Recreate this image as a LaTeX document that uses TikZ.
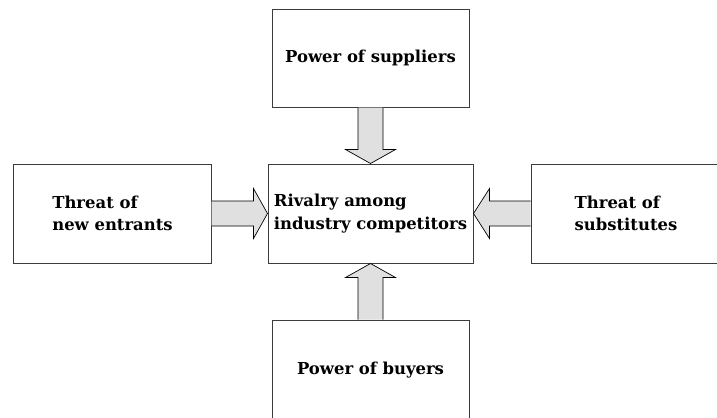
\documentclass[tikz,border=0pt]{standalone}
\usepackage{fontspec}
\setmainfont{DejaVu Serif}
\usetikzlibrary{calc}
\definecolor{boxline}{HTML}{3C3C3C}
\definecolor{arrowfill}{HTML}{E0E0E0}
\tikzset{
  force/.style={
    draw=boxline, fill=white, line width=1bp, align=left, inner sep=0pt,
    minimum width=197bp, minimum height=98bp,
    font=\fontsize{16.5}{22.5}\selectfont\bfseries
  },
  barrow/.style={draw=black, line width=0.7bp, fill=arrowfill, line join=miter}
}

\begin{document}
\begin{tikzpicture}[x=1bp,y=-1bp]
  \useasboundingbox (0,0) rectangle (717,417);
  \clip (0,0) rectangle (717,417);
  % the five forces
  \node[force] (sup) at (370.5,58) {Power of suppliers};
  \node[force,minimum width=205bp,minimum height=99bp] (rival) at (370.5,213.5)
    {Rivalry among\\industry competitors};
  \node[force,minimum height=99bp] (entr) at (112.5,213.5) {Threat of\\new entrants};
  \node[force,minimum width=190bp,minimum height=99bp] (subs) at (626,213.5) {Threat of\\substitutes};
  \node[force,minimum height=100bp] (buy) at (370.5,370) {Power of buyers};
  % block arrows into the centre (left open at the box side)
  \draw[barrow] ($(sup.south)+(-12.5,0)$) -- ($(rival.north)+(-12.5,-14)$) -- ($(rival.north)+(-25,-14)$)
    -- (rival.north) -- ($(rival.north)+(25,-14)$) -- ($(rival.north)+(12.5,-14)$) -- ($(sup.south)+(12.5,0)$);
  \draw[barrow] ($(buy.north)+(-12.5,0)$) -- ($(rival.south)+(-12.5,14)$) -- ($(rival.south)+(-25,14)$)
    -- (rival.south) -- ($(rival.south)+(25,14)$) -- ($(rival.south)+(12.5,14)$) -- ($(buy.north)+(12.5,0)$);
  \draw[barrow] ($(entr.east)+(0,-12.5)$) -- ($(rival.west)+(-14,-12.5)$) -- ($(rival.west)+(-14,-25)$)
    -- (rival.west) -- ($(rival.west)+(-14,25)$) -- ($(rival.west)+(-14,12.5)$) -- ($(entr.east)+(0,12.5)$);
  \draw[barrow] ($(subs.west)+(0,-12.5)$) -- ($(rival.east)+(16,-12.5)$) -- ($(rival.east)+(16,-25)$)
    -- (rival.east) -- ($(rival.east)+(16,25)$) -- ($(rival.east)+(16,12.5)$) -- ($(subs.west)+(0,12.5)$);
\end{tikzpicture}
\end{document}
